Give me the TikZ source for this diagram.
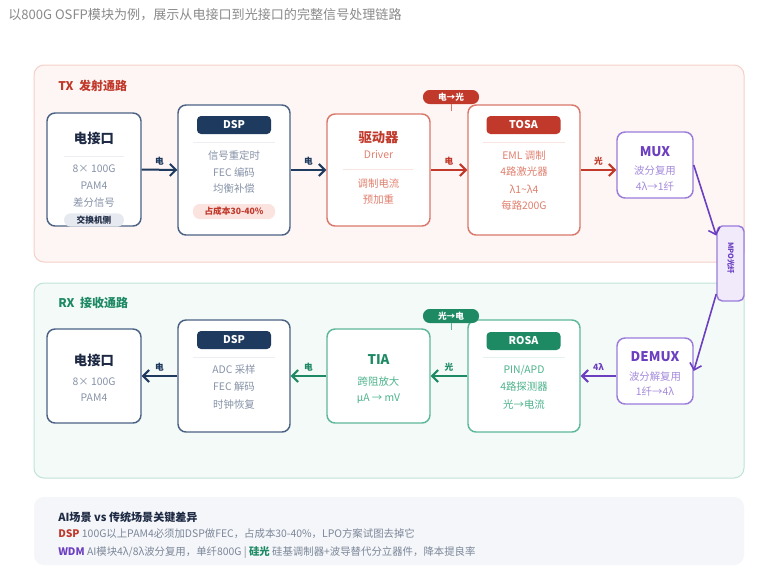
\documentclass[tikz,border=0pt]{standalone}
\usepackage{fontspec}
\setmainfont{Noto Sans CJK SC}
\usetikzlibrary{arrows.meta, positioning}
\newcommand\fsz[1]{\fontsize{#1}{#1}\selectfont}
\definecolor{navy}{HTML}{1F3A5F}
\definecolor{navyline}{HTML}{4B6285}
\definecolor{darktxt}{HTML}{1E2A44}
\definecolor{graytxt}{HTML}{8793A8}
\definecolor{notetxt}{HTML}{7C8799}
\definecolor{subgray}{HTML}{8A8A8A}
\definecolor{sepgray}{HTML}{ECEEF2}
\definecolor{taggray}{HTML}{E6EAF0}
\definecolor{txred}{HTML}{C0392B}
\definecolor{redline}{HTML}{D9786B}
\definecolor{redtxt}{HTML}{E0806F}
\definecolor{redsep}{HTML}{F8E4E0}
\definecolor{pinkbg}{HTML}{FBE3E0}
\definecolor{txbg}{HTML}{FDF6F4}
\definecolor{txline}{HTML}{F5CFC8}
\definecolor{rxgreen}{HTML}{1E8A64}
\definecolor{greenline}{HTML}{5DB89A}
\definecolor{greentxt}{HTML}{4DB38C}
\definecolor{greensep}{HTML}{E4F3EC}
\definecolor{rxbg}{HTML}{F4FAF8}
\definecolor{rxline}{HTML}{BFE3D5}
\definecolor{wdmpurple}{HTML}{6C3FC1}
\definecolor{purpline}{HTML}{9A7BDB}
\definecolor{purptxt}{HTML}{A48BDB}
\definecolor{mpobg}{HTML}{F0EAFB}
\definecolor{notebg}{HTML}{F4F6F9}

\begin{document}
\begin{tikzpicture}[
    x=0.75pt, y=-0.75pt,
    panel/.style={rounded corners=7.5pt, line width=0.75pt},
    box/.style={rectangle, draw, fill=white, rounded corners=6pt, line width=1.1pt, inner sep=0pt},
    head/.style={rectangle, rounded corners=3pt, minimum width=55.5pt, minimum height=13.5pt, inner sep=0pt, text=white, font=\fsz{8}\bfseries},
    pill/.style={rectangle, rounded corners=5pt, inner sep=0pt, font=\fsz{6.5}\bfseries},
    badge/.style={rectangle, rounded corners=5pt, minimum width=42pt, minimum height=10.5pt, inner sep=0pt, text=white, font=\fsz{6.5}\bfseries},
    ttl/.style={font=\fsz{10}\bfseries, inner sep=0pt},
    txt/.style={font=\fsz{7.8}, inner sep=0pt},
    sep/.style={draw=sepgray, line width=0.6pt},
    arrow/.style={-{Straight Barb[length=4.5pt,width=9pt]}, line width=1.5pt},
    lbl/.style={font=\fsz{6.5}\bfseries, midway, above=3pt, inner sep=0pt}
]
\path[use as bounding box, fill=white] (0,0) rectangle (758,572);
\node[anchor=west, font=\fsz{9.8}, text=subgray, inner sep=0pt] (title) at (8,15) {以800G OSFP模块为例，展示从电接口到光接口的完整信号处理链路};

\draw[panel, draw=txline, fill=txbg] (34,65) rectangle (744,262);
\draw[panel, draw=rxline, fill=rxbg] (34,283) rectangle (744,478);
\fill[panel, fill=notebg] (34,497) rectangle (744,565);

\node[anchor=west, font=\fsz{9}\bfseries, text=txred, inner sep=0pt] (txhead) at (58,86) {TX\ \ 发射通路};
\node[anchor=west, font=\fsz{9}\bfseries, text=rxgreen, inner sep=0pt] (rxhead) at (58,303) {RX\ \ 接收通路};

\node[box, draw=navyline, minimum width=70.5pt, minimum height=84.75pt] (tel) at (94,169.5) {};
\node[ttl, text=darktxt] (tel-t) at (94,138) {电接口};
\draw[sep] (64,156) -- (124,156);
\node[txt, text=graytxt] (tel-a) at (94,169) {8× 100G};
\node[txt, text=graytxt] (tel-b) at (94,186) {PAM4};
\node[txt, text=graytxt] (tel-c) at (94,203) {差分信号};
\node[pill, fill=taggray, text=darktxt, minimum width=45pt, minimum height=10pt] (tel-tag) at (94,220) {交换机侧};

\node[box, draw=navyline, minimum width=84pt, minimum height=97.5pt] (tdsp) at (234,170) {};
\node[head, fill=navy] (tdsp-h) at (234,125) {DSP};
\draw[sep] (193,142) -- (275,142);
\node[txt, text=graytxt] (tdsp-a) at (234,156) {信号重定时};
\node[txt, text=graytxt] (tdsp-b) at (234,172) {FEC 编码};
\node[txt, text=graytxt] (tdsp-c) at (234,189) {均衡补偿};
\node[pill, fill=pinkbg, text=txred, minimum width=61.5pt, minimum height=11.25pt] (tdsp-cost) at (234,211.5) {占成本30-40\%};

\node[box, draw=redline, minimum width=77.25pt, minimum height=84pt] (drv) at (378.5,170) {};
\node[ttl, text=txred] (drv-t) at (378.5,138) {驱动器};
\node[txt, text=redtxt] (drv-e) at (378.5,155) {Driver};
\draw[sep, draw=redsep] (343,169) -- (413,169);
\node[txt, text=redtxt] (drv-a) at (378.5,184) {调制电流};
\node[txt, text=redtxt] (drv-b) at (378.5,200) {预加重};

\node[box, draw=redline, minimum width=84pt, minimum height=97.5pt] (tosa) at (524,170) {};
\node[head, fill=txred] (tosa-h) at (523.5,125) {TOSA};
\draw[sep, draw=redsep] (483,142) -- (565,142);
\node[txt, text=redtxt] (tosa-a) at (524,156) {EML 调制};
\node[txt, text=redtxt] (tosa-b) at (524,172) {4路激光器};
\node[txt, text=redtxt] (tosa-c) at (524,189) {λ1\textasciitilde λ4};
\node[txt, text=redtxt] (tosa-d) at (524,206) {每路200G};

\node[badge, fill=txred] (eo) at (451,97) {电→光};
\draw[redline, line width=0.75pt] (eo.south) -- ++(0,7);

\node[box, draw=purpline, minimum width=57pt, minimum height=49.5pt] (mux) at (655,165) {};
\node[ttl, text=wdmpurple] (mux-t) at (655,152) {MUX};
\node[txt, text=purptxt] (mux-a) at (655,171) {波分复用};
\node[txt, text=purptxt] (mux-b) at (655,187) {4λ→1纤};

\node[box, draw=purpline, fill=mpobg, rounded corners=4pt, minimum width=20.25pt, minimum height=56.25pt] (mpo) at (730.5,263.5) {};
\node[font=\fsz{5.5}\bfseries, text=wdmpurple, rotate=-90, inner sep=0pt] (mpo-t) at (731,258) {MPO光纤};

\node[box, draw=navyline, minimum width=70.5pt, minimum height=70.5pt] (rel) at (94,376) {};
\node[ttl, text=darktxt] (rel-t) at (94,360) {电接口};
\node[txt, text=graytxt] (rel-a) at (94,382) {8× 100G};
\node[txt, text=graytxt] (rel-b) at (94,398) {PAM4};

\node[box, draw=navyline, minimum width=84pt, minimum height=84pt] (rdsp) at (234,376) {};
\node[head, fill=navy] (rdsp-h) at (234,340) {DSP};
\draw[sep] (193,357) -- (275,357);
\node[txt, text=graytxt] (rdsp-a) at (234,370) {ADC 采样};
\node[txt, text=graytxt] (rdsp-b) at (234,387) {FEC 解码};
\node[txt, text=graytxt] (rdsp-c) at (234,405) {时钟恢复};

\node[box, draw=greenline, minimum width=77.25pt, minimum height=70.5pt] (tia) at (378.5,376) {};
\node[ttl, text=rxgreen] (tia-t) at (378.5,360) {TIA};
\node[txt, text=greentxt] (tia-a) at (378.5,382) {跨阻放大};
\node[txt, text=greentxt] (tia-b) at (378.5,399) {μA → mV};

\node[box, draw=greenline, minimum width=84pt, minimum height=84pt] (rosa) at (524,376) {};
\node[head, fill=rxgreen] (rosa-h) at (523.5,341) {ROSA};
\draw[sep, draw=greensep] (483,357) -- (565,357);
\node[txt, text=greentxt] (rosa-a) at (524,370) {PIN/APD};
\node[txt, text=greentxt] (rosa-b) at (524,387) {4路探测器};
\node[txt, text=greentxt] (rosa-c) at (524,405) {光→电流};

\node[badge, fill=rxgreen] (oe) at (451,316) {光→电};
\draw[greenline, line width=0.75pt] (oe.south) -- ++(0,7);

\node[box, draw=purpline, minimum width=57pt, minimum height=49.5pt] (demux) at (655,371) {};
\node[ttl, text=wdmpurple] (demux-t) at (655,357) {DEMUX};
\node[txt, text=purptxt] (demux-a) at (655,377) {波分解复用};
\node[txt, text=purptxt] (demux-b) at (655,392) {1纤→4λ};

\draw[arrow, navy] (tel.east) -- (tdsp.west) node[lbl] {电};
\draw[arrow, navy] (tdsp.east) -- (drv.west) node[lbl] {电};
\draw[arrow, txred] (drv.east) -- (tosa.west) node[lbl] {电};
\draw[arrow, txred] (tosa.east) -- (mux.west |- tosa.east) node[lbl] {光};
\draw[arrow, wdmpurple, line width=1.2pt] (mux.east) -- (mpo.117);
\draw[arrow, wdmpurple, line width=1.2pt] (mpo.245) -- (demux.east);
\draw[arrow, wdmpurple] (demux.west |- rosa.east) -- (rosa.east) node[lbl] {4λ};
\draw[arrow, rxgreen] (rosa.west) -- (tia.east) node[lbl] {光};
\draw[arrow, rxgreen] (tia.west) -- (rdsp.east) node[lbl] {电};
\draw[arrow, navy] (rdsp.west) -- (rel.east) node[lbl] {电};

\node[anchor=west, font=\fsz{8.3}\bfseries, text=darktxt, inner sep=0pt] (note-t) at (58,517) {AI场景 vs 传统场景关键差异};
\node[anchor=west, font=\fsz{7.8}, text=notetxt, inner sep=0pt] (note-a) at (58,534) {\textcolor{txred}{\bfseries DSP} 100G以上PAM4必须加DSP做FEC，占成本30-40\%，LPO方案试图去掉它};
\node[anchor=west, font=\fsz{7.8}, text=notetxt, inner sep=0pt] (note-b) at (58,552) {\textcolor{wdmpurple}{\bfseries WDM} AI模块4λ/8λ波分复用，单纤800G | \textcolor{rxgreen}{\bfseries 硅光} 硅基调制器+波导替代分立器件，降本提良率};
\end{tikzpicture}
\end{document}
